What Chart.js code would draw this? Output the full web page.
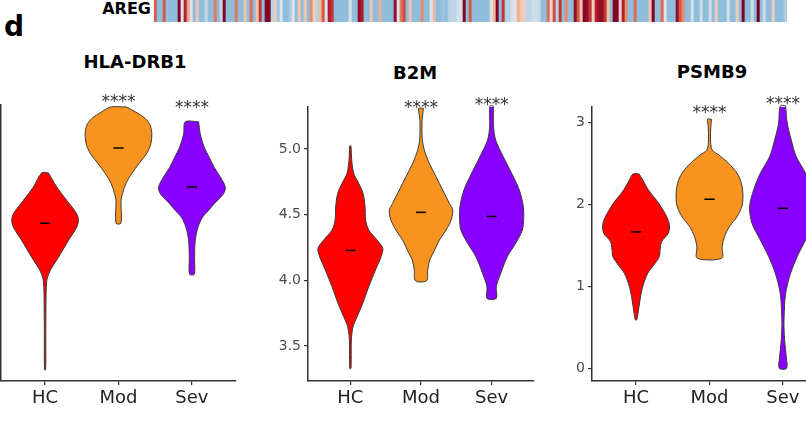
<!DOCTYPE html>
<html>
<head>
<meta charset="utf-8">
<script src="https://cdn.jsdelivr.net/npm/chart.js@4.4.1/dist/chart.umd.min.js"></script>
<style>
  html, body { margin: 0; padding: 0; background: #fff; }
  body { width: 806px; height: 424px; position: relative; overflow: hidden; font-family: "DejaVu Sans", sans-serif; }
  canvas { position: absolute; }
  .lbl { position: absolute; font-weight: bold; color: #000; white-space: nowrap; }
  .title { width: 200px; text-align: center; font-size: 18px; line-height: 20px; }
</style>
</head>
<body>
<div class="lbl" style="left:4px;top:13px;font-size:28px;line-height:28px;">d</div>
<div class="lbl" style="left:0;width:151px;text-align:right;top:1px;font-size:16px;line-height:16px;">AREG</div>
<canvas id="aregStrip" width="633" height="22" style="left:154px;top:0"></canvas>

<div class="lbl title" style="left:35px;top:52px">HLA-DRB1</div>
<div class="lbl title" style="left:315px;top:63px">B2M</div>
<div class="lbl title" style="left:612px;top:62px">PSMB9</div>

<canvas id="hlaChart" width="296" height="384" style="left:-50px;top:40px"></canvas>
<canvas id="b2mChart" width="287" height="384" style="left:257px;top:40px"></canvas>
<canvas id="psmbChart" width="296" height="384" style="left:541px;top:40px"></canvas>

<script>
// ----- data -----
const groups = ['HC', 'Mod', 'Sev'];

// AREG heatmap strip, one value (z-score) per cell
const aregCells = [
  1.5, -1, -1, 1.5, -1, -1, -1, -1, 2.5, 0, 2, 0.8, 0, -1, 0.5, -1, -1, -0.3, -1, -1,
  1.2, -1, -0.3, 2.5, -1, -1, -1, 1.2, -1, -1, 0.5, -1, 1.3, -1, 0.5, 1.8, -1, 2.5, 2.5, -0.5,
  0.4, -0.8, 0, -1, -1, -0.7, 0, -1, 0.5, -1, 0.5, -1,
  1.0, 0.3, -0.5, 0.6, 1.5, 0, 2, 1.8, -1, -1, -1, -1, -1, 0, -1, -1, 2.3, 2, -1, -1,
  0.5, -1, -1, 0.7, -1, -1, -1, -1, 2.3, 0, 1.2, 1.6, -1, 0.5, -1, -1, -1, 1, -1, -1,
  0, 0.6, -1, -1, -0.8, -1, -0.5, -0.4, -0.4, -0.1, -0.1, 2.5, -1, 1.5,
  -1, -1, -1, -1, -1, -1, 0, 0.6, 2.5, -1, 1.8, -0.5, -0.5, -0.1, 0, 0.7, 0.5, 0.3, -0.4, -0.4,
  -0.2, -0.2, -0.3, -1, -1, 1.3, 0.2, 1.6, -0.5, 1.8, -1, 1.0, -1, -1, 2.3, 1.5, 0.5, 2.5, 2.3, 1.8,
  0.3, 2, 2.3, 2.3, 1.8, 0.5, -1, 2.5, 2.5, 0.2, 2, 1, -1,
  -1, 1.3, -1, -1, -1, -1, 0.5, 2.5, -1, -1, 1.3, 0, -1, -1, -1, 2.3, 1.5, 1, -1, -1,
  -0.1, -1, -1, -0.2, -1, -1, -0.2, -1, 0.4, -1, -1, -1, -0.1, -1, -1, 0.4, -1, 2.5, -1, -1,
  -0.2, -1, 2.8, -1, -0.2, -1, -1, 0.4, -1, -1, -1, -0.6
];

// HLA-DRB1: violin profiles (expression level, half width in group units)
const hlaHcY = [3.64, 3.43, 3.23, 3.03, 2.93, 2.83, 2.63, 2.38, 2.18, 2.03, 1.63, 1.13, 0.71];
const hlaHcW = [0.045, 0.159, 0.295, 0.431, 0.454, 0.431, 0.317, 0.181, 0.068, 0.023, 0.012, 0.01, 0.008];
const hlaModY = [4.62, 4.55, 4.45, 4.35, 4.22, 4.07, 3.93, 3.78, 3.63, 3.48, 3.33, 3.23, 2.89];
const hlaModW = [0.109, 0.227, 0.363, 0.431, 0.454, 0.44, 0.385, 0.281, 0.181, 0.1, 0.054, 0.034, 0.034];
const hlaSevY = [4.40, 4.22, 4.02, 3.87, 3.72, 3.58, 3.43, 3.33, 3.18, 3.08, 2.98, 2.83, 2.63, 2.38, 2.13];
const hlaSevW = [0.091, 0.113, 0.168, 0.236, 0.304, 0.385, 0.454, 0.431, 0.304, 0.227, 0.145, 0.082, 0.045, 0.036, 0.032];
const hlaMeans = [2.89, 4.01, 3.43];
const hlaSigY = [null, 4.74, 4.65];
const hlaTicks = [1, 2, 3, 4];

// B2M
const b2mHcY = [5.023, 4.916, 4.815, 4.739, 4.662, 4.561, 4.459, 4.383, 4.307, 4.244, 4.180, 4.079, 3.952, 3.825, 3.723, 3.647, 3.546, 3.330];
const b2mHcW = [0.009, 0.019, 0.047, 0.118, 0.18, 0.208, 0.217, 0.26, 0.378, 0.459, 0.435, 0.355, 0.26, 0.175, 0.095, 0.038, 0.014, 0.009];
const b2mModY = [5.310, 5.259, 5.208, 5.069, 4.992, 4.891, 4.789, 4.688, 4.586, 4.536, 4.459, 4.383, 4.307, 4.216, 4.155, 4.079, 3.997];
const b2mModW = [0.033, 0.024, 0.014, 0.019, 0.047, 0.118, 0.213, 0.307, 0.402, 0.449, 0.426, 0.355, 0.26, 0.18, 0.123, 0.095, 0.08];
const b2mSevY = [5.327, 5.170, 5.069, 4.942, 4.815, 4.688, 4.561, 4.472, 4.383, 4.282, 4.180, 4.053, 3.952, 3.863];
const b2mSevW = [0.024, 0.028, 0.057, 0.165, 0.284, 0.392, 0.449, 0.454, 0.435, 0.34, 0.222, 0.128, 0.066, 0.066];
const b2mMeans = [4.228, 4.518, 4.487];
const b2mSigY = [null, 5.335, 5.365];
const b2mTicks = [3.5, 4.0, 4.5, 5.0];

// PSMB9
const psmbHcY = [2.373, 2.300, 2.178, 2.015, 1.852, 1.750, 1.649, 1.547, 1.445, 1.364, 1.242, 1.160, 0.998, 0.835, 0.672, 0.591];
const psmbHcW = [0.041, 0.091, 0.168, 0.308, 0.417, 0.454, 0.44, 0.349, 0.327, 0.317, 0.227, 0.159, 0.091, 0.054, 0.027, 0.009];
const psmbModY = [3.041, 2.951, 2.788, 2.666, 2.605, 2.503, 2.381, 2.259, 2.137, 2.056, 1.974, 1.852, 1.730, 1.608, 1.486, 1.344];
const psmbModW = [0.027, 0.018, 0.014, 0.036, 0.127, 0.259, 0.376, 0.435, 0.454, 0.454, 0.44, 0.376, 0.272, 0.204, 0.172, 0.168];
const psmbSevY = [3.204, 2.992, 2.788, 2.585, 2.381, 2.178, 1.974, 1.771, 1.567, 1.364, 1.160, 0.957, 0.835, 0.550, 0.346, 0.142, 0.0];
const psmbSevW = [0.036, 0.059, 0.113, 0.181, 0.308, 0.399, 0.454, 0.422, 0.308, 0.195, 0.104, 0.045, 0.027, 0.014, 0.023, 0.045, 0.05];
const psmbMeans = [1.665, 2.064, 1.954];
const psmbSigY = [null, 3.164, 3.265];
const psmbTicks = [0, 1, 2, 3];

// ----- styles -----
const groupColors = ['#FF0000', '#F7931E', '#8800FF'];
const axisColor = '#333';

// RdBu-like ramp for the strip
const rampStops = [
  [-1, [143, 190, 221]], [-0.5, [183, 210, 228]], [0, [222, 226, 232]],
  [0.5, [243, 196, 172]], [1, [232, 140, 112]], [1.5, [212, 90, 72]],
  [2, [180, 30, 45]], [2.5, [130, 5, 35]], [3, [100, 0, 25]]
];
function aregColor(v) {
  for (let i = 1; i < rampStops.length; i++) {
    const [v1, c1] = rampStops[i];
    const [v0, c0] = rampStops[i - 1];
    if (v <= v1) {
      const t = Math.max(0, (v - v0) / (v1 - v0));
      const c = c0.map((a, k) => Math.round(a + (c1[k] - a) * t));
      return `rgb(${c[0]},${c[1]},${c[2]})`;
    }
  }
  return 'rgb(100,0,25)';
}

new Chart(document.getElementById('aregStrip'), {
  type: 'bar',
  data: {
    labels: aregCells.map((_, i) => i),
    datasets: [{
      data: aregCells.map(() => 1),
      backgroundColor: aregCells.map(aregColor),
      borderWidth: 0,
      barPercentage: 1,
      categoryPercentage: 1
    }]
  },
  options: {
    responsive: false,
    animation: false,
    layout: { padding: 0 },
    plugins: { legend: { display: false }, tooltip: { enabled: false } },
    scales: { x: { display: false }, y: { display: false, min: 0, max: 1 } }
  }
});

// ----- violins -----
function violinOutline(center, ys, ws) {
  const pts = [];
  ys.forEach((y, i) => pts.push({ x: center + ws[i], y: y }));
  for (let i = ys.length - 1; i >= 0; i--) pts.push({ x: center - ws[i], y: ys[i] });
  pts.push({ x: pts[0].x, y: pts[0].y });
  return pts;
}

const sigPlugin = {
  id: 'sig',
  afterDatasetsDraw(chart, args, opts) {
    const { ctx } = chart;
    const x = chart.scales.x, y = chart.scales.y;
    ctx.save();
    ctx.font = '17px "DejaVu Sans"';
    ctx.fillStyle = '#333';
    ctx.textAlign = 'center';
    ctx.textBaseline = 'middle';
    opts.levels.forEach((v, i) => {
      if (v == null) return;
      ctx.fillText('****', x.getPixelForValue(i + 1), y.getPixelForValue(v) + 4);
    });
    ctx.restore();
  }
};

function makePanel(id, profiles, means, sigY, yMin, yMax, yTicks, yFmt, topPad) {
  const datasets = [];
  profiles.forEach((p, g) => {
    datasets.push({
      data: violinOutline(g + 1, p[0], p[1]),
      backgroundColor: groupColors[g],
      borderColor: '#3a3a3a',
      borderWidth: 1,
      fill: 'shape',
      tension: 0.3,
      pointRadius: 0,
      clip: false,
      order: 2
    });
    datasets.push({
      data: [{ x: g + 1 - 0.07, y: means[g] }, { x: g + 1 + 0.07, y: means[g] }],
      borderColor: '#000',
      borderWidth: 1.5,
      pointRadius: 0,
      fill: false,
      order: 1
    });
  });

  return new Chart(document.getElementById(id), {
    type: 'line',
    data: { datasets },
    options: {
      responsive: false,
      animation: false,
      layout: { padding: { top: topPad, right: 10, left: 0, bottom: 0 } },
      plugins: {
        legend: { display: false },
        tooltip: { enabled: false },
        sig: { levels: sigY }
      },
      scales: {
        x: {
          type: 'linear',
          min: 0.4,
          max: 3.6,
          afterBuildTicks: s => { s.ticks = [1, 2, 3].map(v => ({ value: v })); },
          afterFit: s => { s.height = 43; },
          ticks: {
            autoSkip: false,
            maxRotation: 0,
            padding: 3,
            color: '#222',
            font: { family: 'DejaVu Sans', size: 18 },
            callback: v => groups[v - 1]
          },
          grid: { display: true, drawOnChartArea: false, drawTicks: true, tickLength: 4, color: axisColor, lineWidth: 1.2 },
          border: { display: true, color: axisColor, width: 1.5 }
        },
        y: {
          type: 'linear',
          min: yMin,
          max: yMax,
          afterBuildTicks: s => { s.ticks = yTicks.map(v => ({ value: v })); },
          afterFit: s => { s.width = 51; },
          ticks: {
            padding: 3,
            color: '#4d4d4d',
            font: { family: 'DejaVu Sans', size: 14 },
            callback: yFmt
          },
          grid: { display: true, drawOnChartArea: false, drawTicks: true, tickLength: 4, color: axisColor, lineWidth: 1.2 },
          border: { display: true, color: axisColor, width: 1.5 }
        }
      }
    },
    plugins: [sigPlugin]
  });
}

makePanel('hlaChart',
  [[hlaHcY, hlaHcW], [hlaModY, hlaModW], [hlaSevY, hlaSevW]],
  hlaMeans, hlaSigY, 0.54, 4.65, hlaTicks, v => String(v), 65);

makePanel('b2mChart',
  [[b2mHcY, b2mHcW], [b2mModY, b2mModW], [b2mSevY, b2mSevW]],
  b2mMeans, b2mSigY, 3.234, 5.32, b2mTicks, v => v.toFixed(1), 67);

makePanel('psmbChart',
  [[psmbHcY, psmbHcW], [psmbModY, psmbModW], [psmbSevY, psmbSevW]],
  psmbMeans, psmbSigY, -0.155, 3.19, psmbTicks, v => String(v), 67);
</script>
</body>
</html>
